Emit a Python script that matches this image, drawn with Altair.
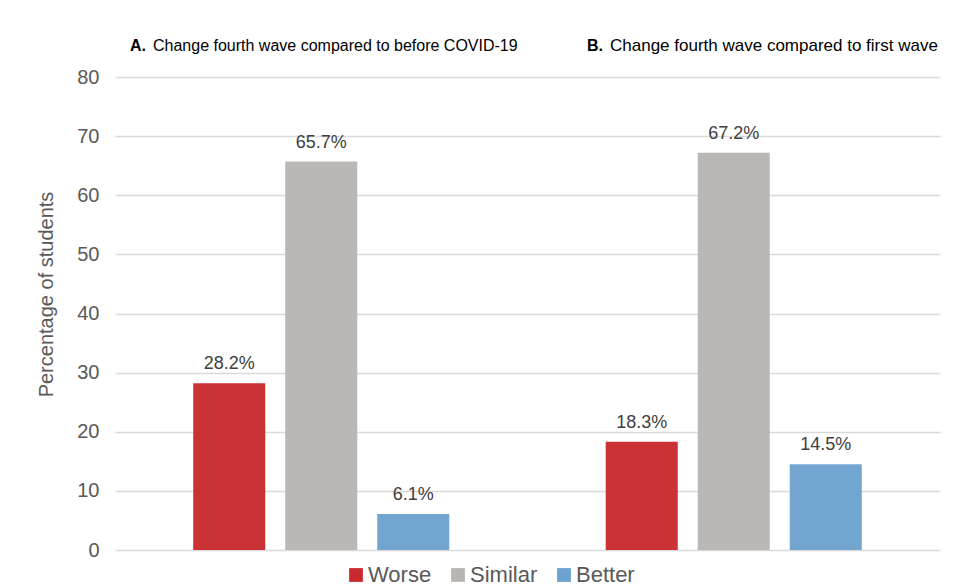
import altair as alt
import pandas as pd

groups = ["A", "B"]
categories = ["Worse", "Similar", "Better"]
values_a = [28.2, 65.7, 6.1]
values_b = [18.3, 67.2, 14.5]
colors = ["#C92A2D", "#B8B4B1", "#6CA2CF"]
title_bold = ["A.", "B."]
title_text = ["Change fourth wave compared to before COVID-19",
              "Change fourth wave compared to first wave"]

rows = []
for g, vals in zip(groups, [values_a, values_b]):
    for c, v in zip(categories, vals):
        rows.append({"group": g, "category": c, "value": v, "label": f"{v:.1f}%"})
df = pd.DataFrame(rows)

FONT = "Liberation Sans"

x = alt.X("group:N", axis=None, sort=groups,
          scale=alt.Scale(paddingInner=0, paddingOuter=0))
xo = alt.XOffset("category:N", sort=categories,
                 scale=alt.Scale(paddingInner=0.217, paddingOuter=0.85))
y = alt.Y("value:Q", scale=alt.Scale(domain=[0, 80]),
          axis=alt.Axis(values=list(range(0, 81, 10)), title="Percentage of students",
                        domain=False, ticks=False, labelFontSize=20, labelColor="#595959",
                        labelPadding=16, titleFontSize=20, titleColor="#595959",
                        titleFontWeight="normal", titlePadding=20, titleY=217,
                        gridColor="#D9D9D9", gridWidth=1.5, labelFont=FONT, titleFont=FONT))

bars = alt.Chart(df).mark_bar(opacity=0.96).encode(
    x=x, xOffset=xo, y=y,
    color=alt.Color("category:N", sort=categories,
                    scale=alt.Scale(domain=categories, range=colors),
                    legend=alt.Legend(title=None, orient="none", direction="horizontal",
                                      legendX=230, legendY=487, symbolType="square",
                                      symbolSize=190, symbolStrokeWidth=0, symbolOpacity=1,
                                      labelFontSize=22, labelColor="#595959", labelFont=FONT,
                                      columnPadding=15, labelOffset=1)),
)

labels = alt.Chart(df).mark_text(baseline="bottom", dy=-10, fontSize=18,
                                 color="#404040", font=FONT).encode(
    x=x, xOffset=xo, y=alt.Y("value:Q"), text="label:N")

tdf = pd.DataFrame({"group": groups, "bold": title_bold, "text": title_text})

t_layers = []
bold_x = [15, 472]
text_x = [38, 495]
sizes = [16, 17]
for i, g in enumerate(groups):
    sub = tdf[tdf["group"] == g]
    t_layers.append(alt.Chart(sub).mark_text(align="left", baseline="middle", fontSize=16,
                                             fontWeight="bold", font=FONT, color="#000000").encode(
        x=alt.value(bold_x[i]), y=alt.value(-31), text="bold:N"))
    t_layers.append(alt.Chart(sub).mark_text(align="left", baseline="middle", fontSize=sizes[i],
                                             font=FONT, color="#000000").encode(
        x=alt.value(text_x[i]), y=alt.value(-31), text="text:N"))

chart = alt.layer(bars, labels, *t_layers).properties(
    width=825, height=473,
    autosize=alt.AutoSizeParams(type="none"),
    padding={"left": 107, "top": 69, "right": 8, "bottom": 37},
).configure(font=FONT).configure_view(stroke=None)

chart.save("out.html", embed_options={"renderer": "svg", "actions": False})
